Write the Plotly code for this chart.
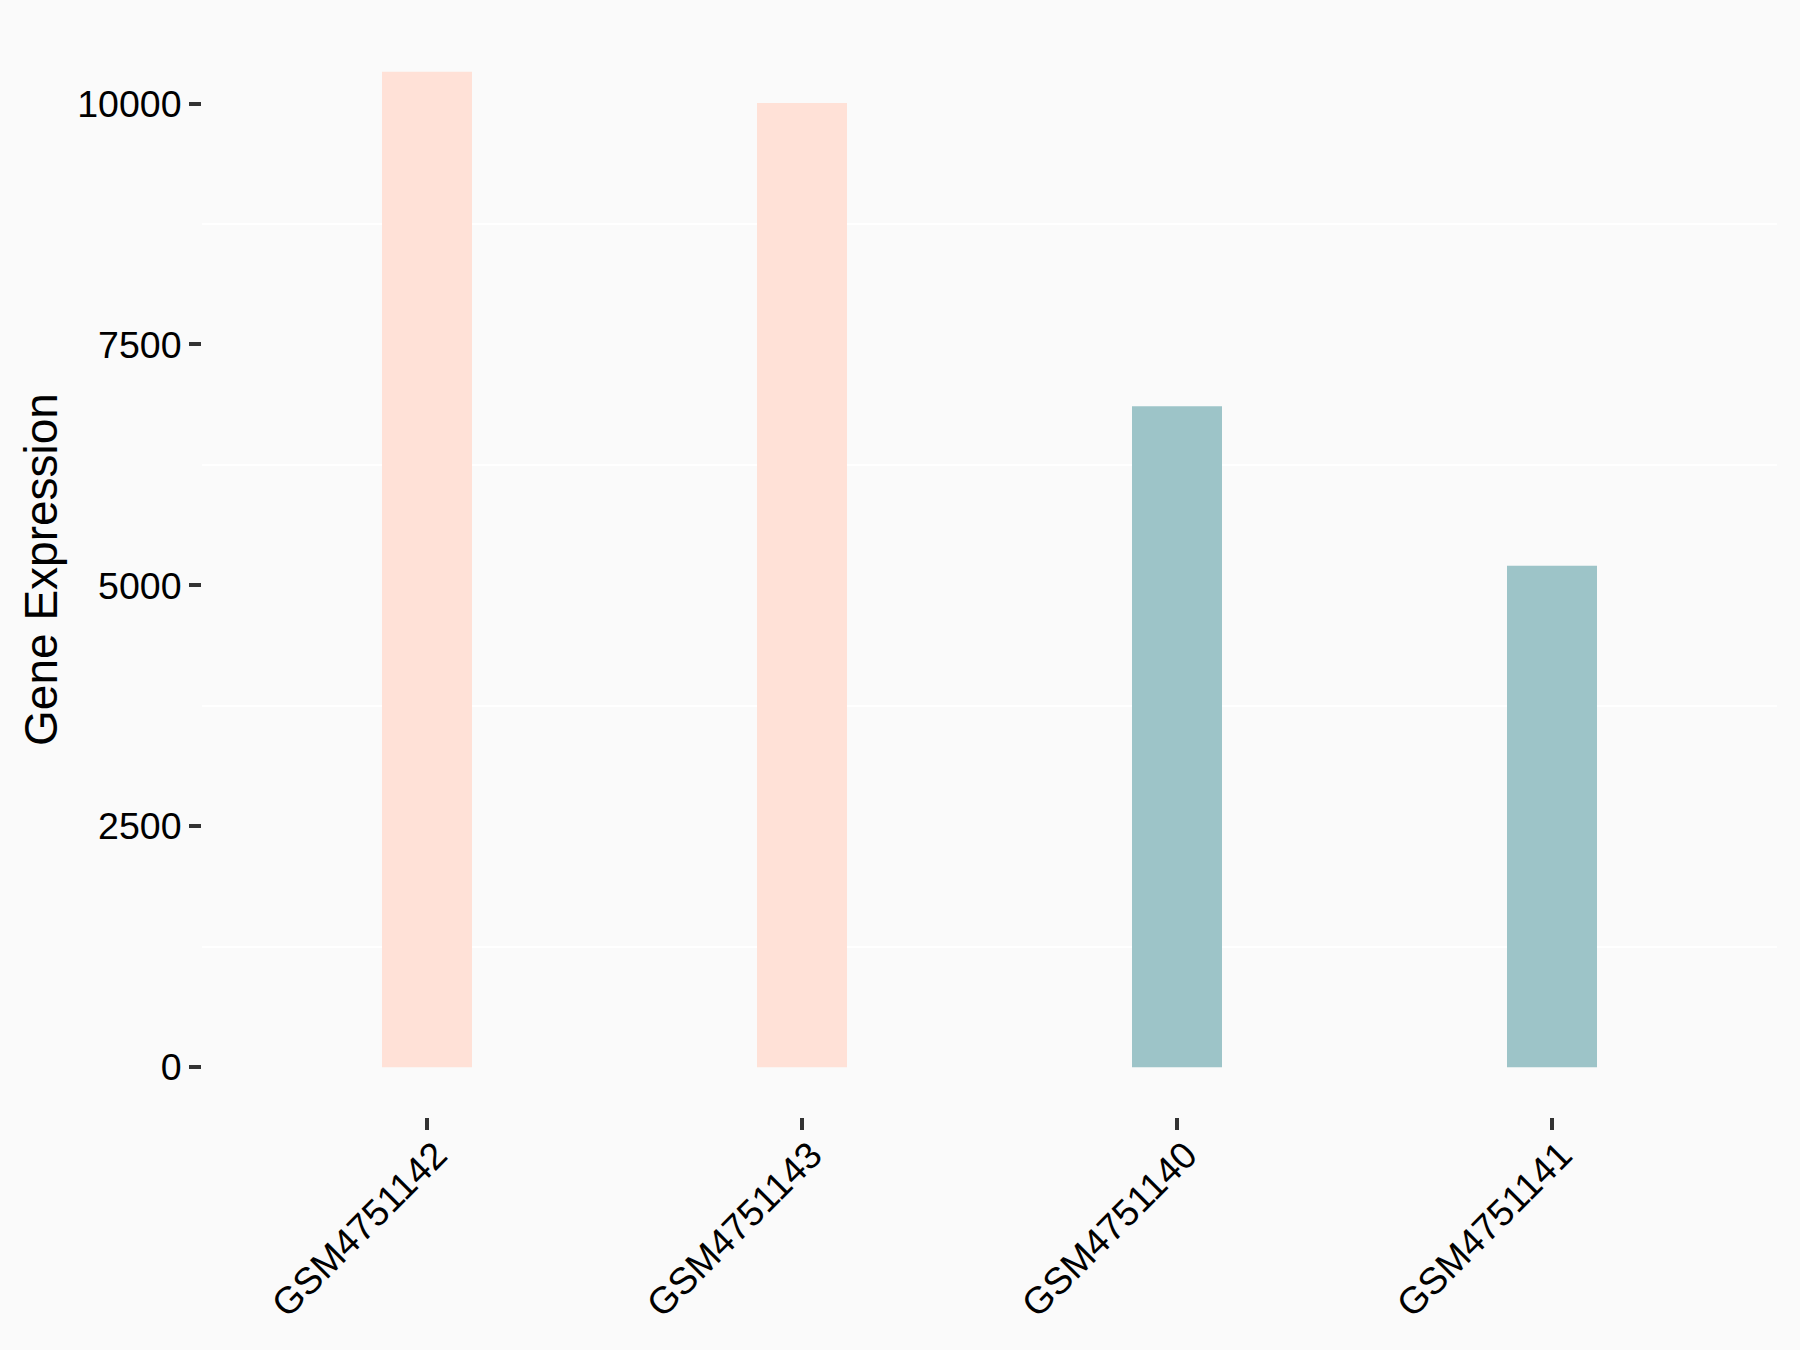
import plotly.graph_objects as go

samples = ["GSM4751142", "GSM4751143", "GSM4751140", "GSM4751141"]
expression = [10330, 10005, 6860, 5205]
bar_colors = ["#FFE1D7", "#FFE1D7", "#9DC4C8", "#9DC4C8"]
y_ticks = [0, 2500, 5000, 7500, 10000]
y_ticktext = ["0", "2500", "5000", "7500", "10000"]
y_minor = [1250, 3750, 6250, 8750]

fig = go.Figure()

fig.add_trace(go.Bar(
    x=samples,
    y=expression,
    marker={"color": bar_colors, "line": {"width": 0}},
    width=0.24,
    showlegend=False,
))

top = max(expression)
pad = top * 0.05

fig.update_layout(
    width=1800,
    height=1350,
    paper_bgcolor="#FAFAFA",
    plot_bgcolor="#FAFAFA",
    # page body adds ~8px offset
    margin={"t": 14, "b": 241, "l": 194, "r": 31},
    font={"family": "Liberation Sans, Arial, sans-serif", "color": "#000000"},
    xaxis=dict(
        range=[-0.6, 3.6],
        showgrid=False,
        showline=False,
        zeroline=False,
        ticks="outside",
        ticklen=12,
        tickwidth=4,
        tickcolor="#333333",
        tickangle=-45,
        tickfont={"size": 37.5},
        ticklabelstandoff=-12,
        ticklabelshift=9,
    ),
    yaxis=dict(
        range=[-pad, top + pad],
        tickvals=y_ticks,
        ticktext=y_ticktext,
        showgrid=False,
        showline=False,
        zeroline=False,
        ticks="outside",
        ticklen=12,
        tickwidth=4,
        tickcolor="#333333",
        tickfont={"size": 37.5},
        title={"text": "Gene Expression", "font": {"size": 46}, "standoff": 5},
        minor=dict(tickmode="array", tickvals=y_minor, ticks="", showgrid=True,
                   gridcolor="#FFFFFF", gridwidth=2),
    ),
)

fig.write_html("out.html", post_script="document.body.style.background='#FAFAFA';")
